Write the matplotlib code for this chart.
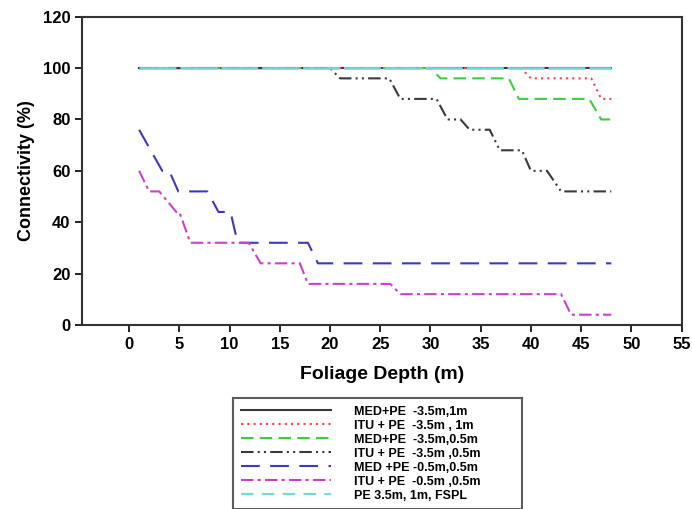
import matplotlib.pyplot as plt
from matplotlib.lines import Line2D

plt.rcParams['font.family'] = ['Liberation Sans', 'DejaVu Sans']
plt.rcParams['font.weight'] = 'bold'

# step curves: connectivity (%) vs foliage depth (m)
med_35_1_x = [1, 48]
med_35_1_y = [100, 100]

itu_35_1_x = [1, 39, 40, 46, 47, 48]
itu_35_1_y = [100, 100, 96, 96, 88, 88]

med_35_05_x = [1, 30, 31, 37.8, 38.8, 45.8, 47, 48]
med_35_05_y = [100, 100, 96, 96, 88, 88, 80, 80]

itu_35_05_x = [1, 20, 21, 25.9, 27, 30.6, 31.7, 33, 33.9, 35.9, 36.9, 39.1, 40, 41.6, 43, 48]
itu_35_05_y = [100, 100, 96, 96, 88, 88, 80, 80, 76, 76, 68, 68, 60, 60, 52, 52]

med_05_05_x = [1, 3.3, 4, 4.9, 7.8, 8.9, 10.1, 10.8, 17.8, 18.8, 48]
med_05_05_y = [76, 60, 60, 52, 52, 44, 44, 32, 32, 24, 24]

itu_05_05_x = [1, 2, 3, 4.7, 5, 6.1, 11.9, 13.1, 17, 17.8, 26, 27, 43, 44, 48]
itu_05_05_y = [60, 52, 52, 44, 44, 32, 32, 24, 24, 16, 16, 12, 12, 4, 4]

fspl_x = [1, 48]
fspl_y = [100, 100]

labels = ['MED+PE  -3.5m,1m', 'ITU + PE  -3.5m , 1m', 'MED+PE  -3.5m,0.5m',
          'ITU + PE  -3.5m ,0.5m', 'MED +PE -0.5m,0.5m', 'ITU + PE  -0.5m ,0.5m',
          'PE 3.5m, 1m, FSPL']

fig = plt.figure(figsize=(6.92, 5.09), dpi=100)
ax = fig.add_axes([0.119, 0.3615, 0.866, 0.6057])

lw = 1.5
styles = [
    dict(color='#3a3a3a', linestyle='-'),
    dict(color='#ff4040', linestyle=(0, (1, 2))),
    dict(color='#3fcc3f', linestyle=(0, (6, 3))),
    dict(color='#3a3a3a', linestyle=(0, (6, 2, 1, 2, 1, 2))),
    dict(color='#3a3ac0', linestyle=(0, (9, 5))),
    dict(color='#cc40cc', linestyle=(0, (6, 2, 1.5, 2))),
    dict(color='#6fdcdc', linestyle=(0, (6, 4))),
]

ax.plot(med_35_1_x, med_35_1_y, lw=lw, **styles[0])
ax.plot(itu_35_1_x, itu_35_1_y, lw=lw, **styles[1])
ax.plot(med_35_05_x, med_35_05_y, lw=lw, **styles[2])
ax.plot(itu_35_05_x, itu_35_05_y, lw=lw, **styles[3])
ax.plot(med_05_05_x, med_05_05_y, lw=lw, **styles[4])
ax.plot(itu_05_05_x, itu_05_05_y, lw=lw, **styles[5])
# FSPL line sits on top and looks almost solid in the plot body
ax.plot(fspl_x, fspl_y, lw=lw + 0.4, color='#6fdcdc', linestyle=(0, (14, 1.5)), zorder=3)

ax.set_xlim(-4.65, 55)
ax.set_ylim(0, 120)
ax.set_xticks(range(0, 56, 5))
ax.set_yticks(range(0, 121, 20))
ax.tick_params(direction='out', length=5, width=1.2, labelsize=12)
for s in ax.spines.values():
    s.set_linewidth(1.5)
    s.set_color('#333333')

ax.set_xlabel('Foliage Depth (m)', fontsize=14, fontweight='bold', labelpad=10)
ax.set_ylabel('Connectivity (%)', fontsize=13, fontweight='bold', labelpad=6)

handles = [Line2D([], [], lw=lw, **st) for st in styles]
leg = fig.legend(handles, labels, loc='upper left',
                 bbox_to_anchor=(0.337, 0.218, 0.418, 0.0), mode='expand',
                 fontsize=9, handlelength=7.2, handletextpad=1.9,
                 labelspacing=0.16, borderpad=0.6, borderaxespad=0,
                 fancybox=False, frameon=True)
leg.get_frame().set_edgecolor('#333333')
leg.get_frame().set_linewidth(1.5)

fig.savefig('out.png', dpi=100)
